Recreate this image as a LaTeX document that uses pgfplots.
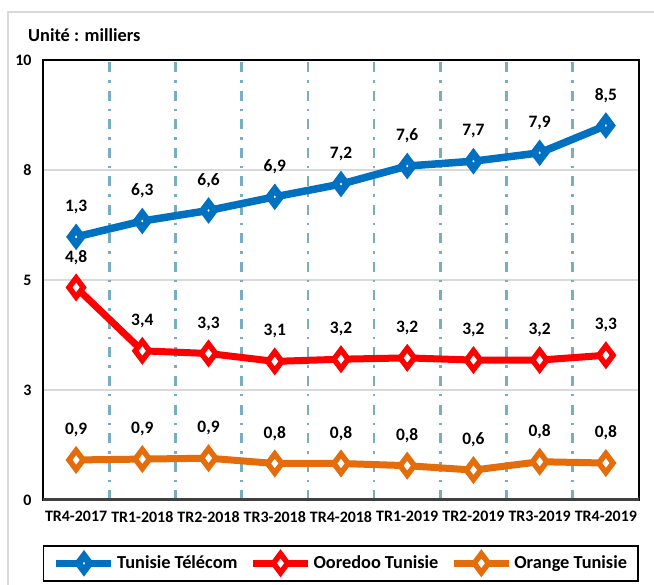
\documentclass[border=0pt]{standalone}
\usepackage{fontspec}
\setmainfont{Carlito}
\usepackage{pgfplots}
\pgfplotsset{compat=1.18}

\definecolor{ttblue}{HTML}{0070C0}
\definecolor{oored}{HTML}{FF0000}
\definecolor{orgor}{HTML}{E46C0A}
\definecolor{gridgray}{HTML}{D9D9D9}
\definecolor{sepblue}{HTML}{78AEBF}
\definecolor{axgray}{HTML}{404040}

\begin{document}
\begin{tikzpicture}
\begin{axis}[
    at={(0,0)}, anchor=south west,
    scale only axis, width=596bp, height=440bp,
    xmin=-0.5, xmax=8.5, ymin=0, ymax=10,
    xtick={0,...,8},
    xticklabels={TR4-2017,TR1-2018,TR2-2018,TR3-2018,TR4-2018,TR1-2019,TR2-2019,TR3-2019,TR4-2019},
    major x tick style={draw=none},
    ytick={0,2.5,5,7.5,10},
    yticklabels={0,3,5,8,10},
    ytick style={draw=none},
    ymajorgrids,
    major grid style={gridgray, line width=1.2bp},
    extra x ticks={0.5,1.5,...,7.5},
    extra x tick labels={},
    extra x tick style={grid=major, tick align=outside, major tick length=6bp,
        tick style={axgray, line width=3bp},
        major grid style={sepblue, line width=2.6bp, dash pattern=on 10bp off 8bp on 2.5bp off 8bp}},
    axis line style={black, line width=1.3bp},
    tick label style={font=\fontsize{16}{16}\selectfont\bfseries},
    /pgf/number format/assume math mode=true,
    xticklabel style={yshift=-8bp},
    yticklabel style={xshift=-8bp},
    point meta=explicit symbolic,
    nodes near coords,
    every node near coord/.append style={font=\fontsize{17.5}{17.5}\selectfont\bfseries, black, anchor=center, yshift=30bp},
    legend columns=3,
    legend style={at={(0,0)}, anchor=north west, yshift=-45bp, draw=black, line width=1.5bp,
        font=\fontsize{18.4}{18.4}\selectfont\bfseries, inner xsep=9bp, inner ysep=8bp,
        /tikz/every even column/.append style={column sep=10bp}},
    legend cell align=left,
    legend image code/.code={\draw[mark repeat=2,mark phase=2,#1] plot coordinates {(0bp,0bp) (27.5bp,0bp) (55bp,0bp)};},
]
\addplot[ttblue, line width=7.5bp, mark=diamond*, mark size=7.5bp,
    mark options={solid, fill=white, draw=ttblue, line width=7bp}]
    coordinates {(0,5.98)[1,3] (1,6.34)[6,3] (2,6.58)[6,6] (3,6.89)[6,9] (4,7.18)[7,2]
                 (5,7.59)[7,6] (6,7.70)[7,7] (7,7.89)[7,9] (8,8.51)[8,5]};
\addlegendentry{Tunisie Télécom}
\addplot[oored, line width=7bp, mark=diamond*, mark size=9.5bp,
    mark options={solid, fill=white, draw=oored, line width=5.5bp}]
    coordinates {(0,4.83)[4,8] (1,3.39)[3,4] (2,3.33)[3,3] (3,3.15)[3,1] (4,3.20)[3,2]
                 (5,3.23)[3,2] (6,3.18)[3,2] (7,3.18)[3,2] (8,3.29)[3,3]};
\addlegendentry{Ooredoo Tunisie}
\addplot[orgor, line width=7bp, mark=diamond*, mark size=9.5bp,
    mark options={solid, fill=white, draw=orgor, line width=5.5bp}]
    coordinates {(0,0.91)[0,9] (1,0.93)[0,9] (2,0.95)[0,9] (3,0.83)[0,8] (4,0.83)[0,8]
                 (5,0.78)[0,8] (6,0.68)[0,6] (7,0.87)[0,8] (8,0.84)[0,8]};
\addlegendentry{Orange Tunisie}
\draw[axgray, line width=5bp] ([xshift=-3bp]rel axis cs:0,0) -- ([xshift=5bp]rel axis cs:1,0);
\end{axis}
\node[anchor=west, font=\fontsize{18.4}{18.4}\selectfont\bfseries, inner sep=0pt] at (-15bp,465bp) {Unité : milliers};
\draw[gridgray, line width=1.5bp] (-35bp,-85bp) -- (-35bp,488bp) -- (611bp,488bp);
\pgfresetboundingbox
\useasboundingbox (-43bp,-85bp) rectangle (611bp,500bp);
\end{tikzpicture}
\end{document}
